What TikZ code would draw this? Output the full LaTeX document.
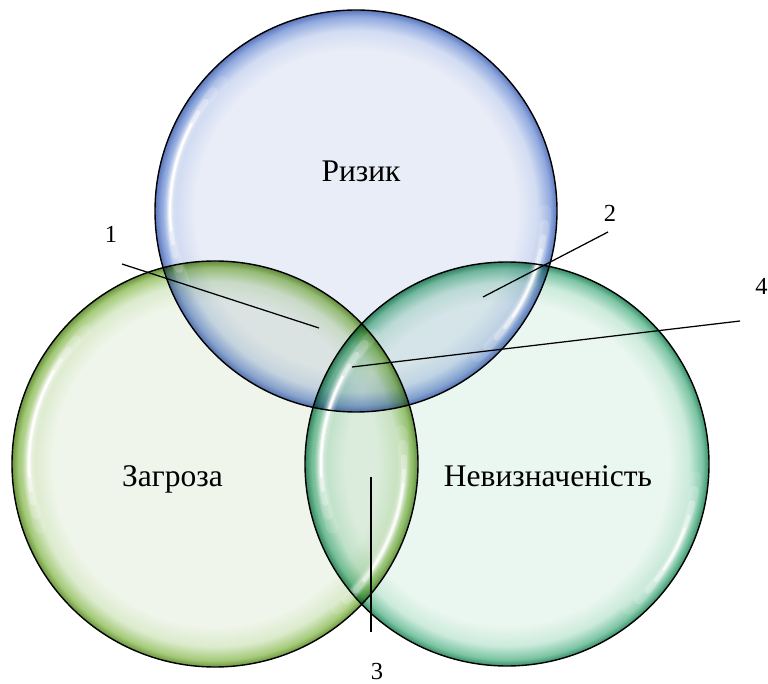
\documentclass[tikz,border=0pt]{standalone}
\usepackage{fontspec}
\setmainfont{Liberation Serif}

% Glassy bubble shadings: pale body, tinted rim
% (the shaded circle's edge sits at 25bp of the shading)
\pgfdeclareradialshading{riskglass}{\pgfpoint{0bp}{0bp}}{%
  rgb(0bp)=(0.914,0.929,0.969); rgb(20bp)=(0.914,0.929,0.969);
  rgb(22.5bp)=(0.82,0.86,0.95); rgb(24.2bp)=(0.56,0.66,0.87);
  rgb(25bp)=(0.36,0.46,0.74); rgb(50bp)=(0.36,0.46,0.74)}
\pgfdeclareradialshading{threatglass}{\pgfpoint{0bp}{0bp}}{%
  rgb(0bp)=(0.937,0.961,0.918); rgb(20bp)=(0.937,0.961,0.918);
  rgb(22.5bp)=(0.86,0.92,0.80); rgb(24.2bp)=(0.64,0.79,0.47);
  rgb(25bp)=(0.42,0.58,0.24); rgb(50bp)=(0.42,0.58,0.24)}
\pgfdeclareradialshading{doubtglass}{\pgfpoint{0bp}{0bp}}{%
  rgb(0bp)=(0.918,0.965,0.941); rgb(20bp)=(0.918,0.965,0.941);
  rgb(22.5bp)=(0.80,0.92,0.86); rgb(24.2bp)=(0.48,0.77,0.64);
  rgb(25bp)=(0.22,0.55,0.40); rgb(50bp)=(0.22,0.55,0.40)}

% Soft white glint along the inside of a bubble rim
\newcommand\glassglint[5]{%
  \foreach \w/\o/\d in {12/0.12/0, 9/0.2/4, 6/0.3/8, 4/0.45/12, 2.2/#5/16}{%
    \draw[white, line width=\w pt, opacity=\o, line cap=round]
      (#1) ++(#3+\d:#2) arc[start angle=#3+\d, end angle=#4-\d, radius=#2];
  }}

\begin{document}
\begin{tikzpicture}[x=1pt, y=1pt,
  rimline/.style={draw=black, line width=1.4pt},
  leader/.style={draw=black, line width=1.25pt},
  word/.style={font=\fontsize{31.5}{36}\selectfont, anchor=base, inner sep=0pt},
  tag/.style={font=\fontsize{24.5}{28}\selectfont, anchor=base, inner sep=0pt}]
\useasboundingbox (0,0) rectangle (768,683);

% bubble centres
\coordinate (cR) at (356,472);
\coordinate (cZ) at (215,219);
\coordinate (cN) at (507,219);

% bubble bodies, blended so overlaps darken
\begin{scope}[blend mode=multiply]
  \shade[shading=riskglass]   (cR) circle[radius=201];
  \shade[shading=threatglass] (cZ) circle[radius=203];
  \shade[shading=doubtglass]  (cN) circle[radius=202];
\end{scope}

% glints
\glassglint{cR}{186}{136}{202}{0.95}
\glassglint{cR}{189}{-50}{0}{0.8}
\glassglint{cZ}{186}{134}{200}{0.95}
\glassglint{cZ}{189}{-50}{10}{0.8}
\glassglint{cN}{186}{136}{200}{0.95}
\glassglint{cN}{189}{-50}{-4}{0.8}

% outlines
\draw[rimline] (cR) circle[radius=201];
\draw[rimline] (cZ) circle[radius=203];
\draw[rimline] (cN) circle[radius=202];

% set names
\node[word] (risk)   at (361,501) {Ризик};
\node[word] (threat) at (172.5,196) {Загроза};
\node[word] (doubt)  at (548,196) {Невизначеність};

% region tags and leaders
\node[tag] (t1) at (111,440) {1};
\node[tag] (t2) at (610,461) {2};
\node[tag] (t4) at (761.5,388) {4};
\node[tag] (t3) at (377,4) {3};

\coordinate (l1a) at (122,419);
\coordinate (l1b) at (319,355);
\coordinate (l2a) at (608,451);
\coordinate (l2b) at (483,386);
\coordinate (l4a) at (740,362);
\coordinate (l4b) at (352,316);
\coordinate (l3a) at (371,206);
\coordinate (l3b) at (371,51);

\draw[leader] (l1a) -- (l1b);
\draw[leader] (l2a) -- (l2b);
\draw[leader] (l4a) -- (l4b);
\draw[leader] (l3a) -- (l3b);
\end{tikzpicture}
\end{document}
